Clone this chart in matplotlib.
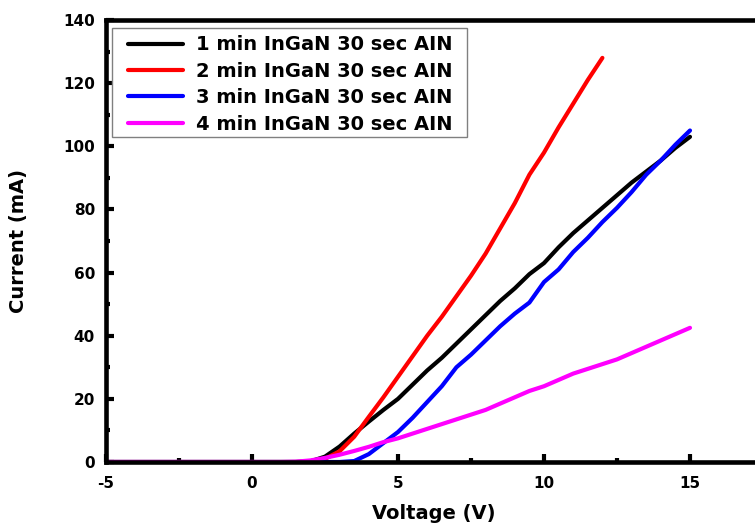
import matplotlib
matplotlib.use("Agg")
import matplotlib.pyplot as plt
from matplotlib.ticker import MultipleLocator
from matplotlib.patches import Rectangle

plt.rcParams['font.family'] = ['DejaVu Sans']
plt.rcParams['font.weight'] = 'bold'
plt.rcParams['axes.unicode_minus'] = False

v_zero = [-5.0, -4.0, -3.0, -2.0, -1.0, 0.0, 1.0, 1.5]

v_black = v_zero + [2.0, 2.5, 3.0, 3.5, 4.0, 4.5, 5.0, 5.5, 6.0, 6.5, 7.0, 7.5, 8.0, 8.5, 9.0,
                    9.5, 10.0, 10.5, 11.0, 11.5, 12.0, 12.5, 13.0, 13.5, 14.0, 14.5, 15.0]
i_black = [0]*8 + [0.2, 1.7, 4.9, 9.0, 12.8, 16.5, 20.0, 24.5, 29.0, 33.0, 37.5, 42.0, 46.5, 51.0, 55.0,
                   59.5, 63.0, 68.0, 72.5, 76.5, 80.5, 84.5, 88.5, 92.0, 95.5, 99.5, 103.0]

v_red = v_zero + [2.0, 2.5, 3.0, 3.5, 4.0, 4.5, 5.0, 5.5, 6.0, 6.5, 7.0, 7.5, 8.0, 8.5, 9.0,
                  9.5, 10.0, 10.5, 11.0, 11.5, 12.0]
i_red = [0]*8 + [0.1, 1.0, 3.4, 8.0, 14.3, 20.5, 27.0, 33.5, 40.0, 46.0, 52.5, 59.0, 66.0, 74.0, 82.0,
                 91.0, 98.0, 106.0, 113.5, 121.0, 128.0]

v_blue = v_zero + [2.0, 2.5, 3.0, 3.5, 4.0, 4.5, 5.0, 5.5, 6.0, 6.5, 7.0, 7.5, 8.0, 8.5, 9.0,
                   9.5, 10.0, 10.5, 11.0, 11.5, 12.0, 12.5, 13.0, 13.5, 14.0, 14.5, 15.0]
i_blue = [0]*8 + [0.0, 0.0, 0.0, 0.3, 2.5, 6.0, 9.5, 14.0, 19.0, 24.0, 30.0, 34.0, 38.5, 43.0, 47.0,
                  50.5, 57.0, 61.0, 66.5, 71.0, 76.0, 80.5, 85.5, 91.0, 95.5, 100.5, 105.0]

v_mag = v_zero + [2.0, 2.5, 3.0, 3.5, 4.0, 4.5, 5.0, 5.5, 6.0, 6.5, 7.0, 7.5, 8.0, 8.5, 9.0,
                  9.5, 10.0, 10.5, 11.0, 11.5, 12.0, 12.5, 13.0, 13.5, 14.0, 14.5, 15.0]
i_mag = [0]*7 + [0.1] + [0.5, 1.3, 2.3, 3.5, 4.8, 6.3, 7.5, 9.0, 10.5, 12.0, 13.5, 15.0, 16.5, 18.5, 20.5,
                         22.5, 24.0, 26.0, 28.0, 29.5, 31.0, 32.5, 34.5, 36.5, 38.5, 40.5, 42.5]

labels = ['1 min InGaN 30 sec AIN', '2 min InGaN 30 sec AIN',
          '3 min InGaN 30 sec AIN', '4 min InGaN 30 sec AIN']
colors = ['#000000', '#ff0000', '#0000ff', '#ff00ff']

fig = plt.figure(figsize=(7.55, 5.27), dpi=100)
W, H = 755, 527
ax = fig.add_axes([106/W, (H-462)/H, 23*29.2/W, 442/H])

series = [(v_black, i_black), (v_red, i_red), (v_blue, i_blue), (v_mag, i_mag)]
for (v, i), c, lab in zip(series, colors, labels):
    ax.plot(v, i, color=c, lw=3.0, label=lab, solid_capstyle='round', solid_joinstyle='round')

ax.set_xlim(-5, 18)
ax.set_ylim(0, 140)
ax.xaxis.set_major_locator(MultipleLocator(5))
ax.xaxis.set_minor_locator(MultipleLocator(2.5))
ax.yaxis.set_major_locator(MultipleLocator(20))
ax.yaxis.set_minor_locator(MultipleLocator(10))

for s in ax.spines.values():
    s.set_linewidth(3.3)
ax.tick_params(which='major', direction='in', length=6, width=3, labelsize=11)
ax.tick_params(which='minor', direction='in', length=3, width=3)
ax.tick_params(axis='x', which='both', pad=10, top=False)
ax.tick_params(axis='y', which='both', pad=8, right=False)
for lab in ax.get_xticklabels() + ax.get_yticklabels():
    lab.set_fontweight('bold')

ax.set_xlabel('Voltage (V)', fontsize=14, fontweight='bold')
ax.set_ylabel('Current (mA)', fontsize=14, fontweight='bold')
ax.xaxis.set_label_coords(0.488, -0.095)
ax.yaxis.set_label_coords(-0.116, 0.5)

# legend frame box
frame = Rectangle((112/W, (H-137)/H), 355/W, 109/H, transform=fig.transFigure,
                  facecolor='white', edgecolor='#808080', lw=1.0, zorder=4.9, clip_on=False)
ax.add_patch(frame)

leg = ax.legend(loc='upper left', bbox_to_anchor=(128/W, (H-35.5)/H), bbox_transform=fig.transFigure,
                frameon=False, fontsize=14,
                handlelength=2.83, handletextpad=0.67, labelspacing=0.38, borderpad=0,
                borderaxespad=0)
for t in leg.get_texts():
    t.set_fontweight('bold')
for l in leg.get_lines():
    l.set_linewidth(3.0)

fig.savefig('out.png', dpi=100)
